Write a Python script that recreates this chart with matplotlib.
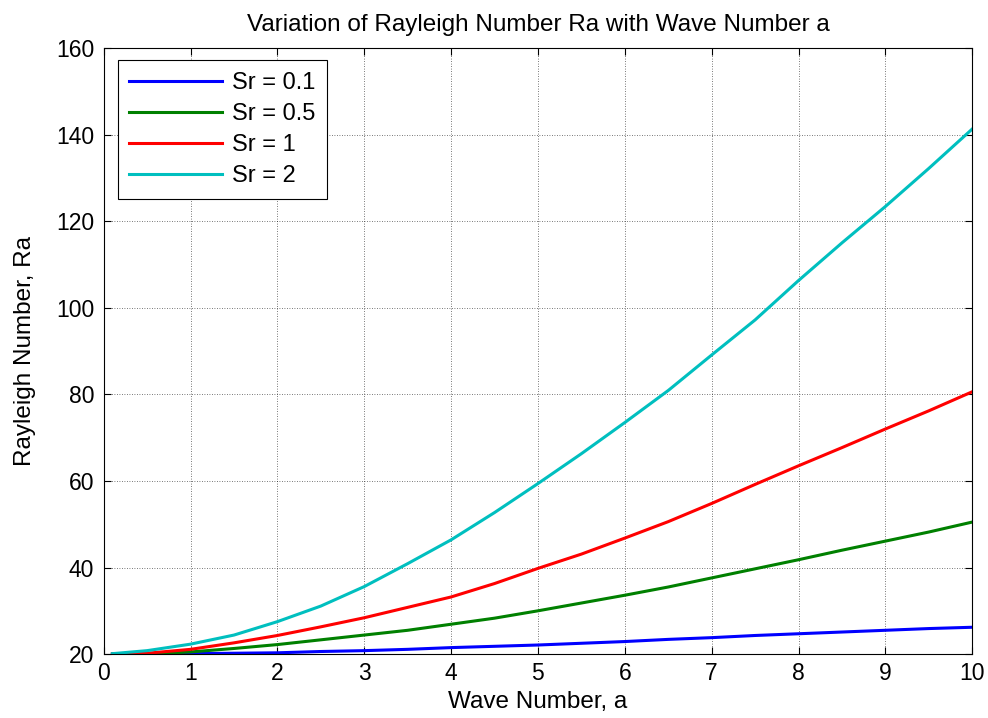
import numpy as np
import matplotlib
matplotlib.use("Agg")
import matplotlib.pyplot as plt

plt.rcParams["font.family"] = ["Liberation Sans", "DejaVu Sans"]

# values
wave_number = [0.1, 0.5, 1, 1.5, 2, 2.5, 3, 3.5, 4, 4.5, 5,
               5.5, 6, 6.5, 7, 7.5, 8, 8.5, 9, 9.5, 10]
ra_sr_01 = [20.0, 20.0, 20.1, 20.2, 20.3, 20.6, 20.8, 21.1, 21.5, 21.8, 22.1,
            22.5, 22.9, 23.4, 23.8, 24.3, 24.7, 25.1, 25.5, 25.9, 26.2]
ra_sr_05 = [20.0, 20.0, 20.5, 21.3, 22.2, 23.3, 24.4, 25.5, 26.9, 28.3, 30.0,
            31.8, 33.6, 35.5, 37.6, 39.7, 41.8, 44.0, 46.1, 48.2, 50.5]
ra_sr_1 = [20.0, 20.2, 21.1, 22.6, 24.3, 26.3, 28.4, 30.8, 33.2, 36.3, 39.8,
           43.1, 46.8, 50.6, 54.8, 59.2, 63.5, 67.7, 72.0, 76.2, 80.6]
ra_sr_2 = [20.1, 20.8, 22.3, 24.4, 27.5, 31.1, 35.6, 40.9, 46.4, 52.7, 59.4,
           66.3, 73.5, 80.9, 89.1, 97.2, 106.3, 115.0, 123.4, 132.2, 141.3]

labels = ["Sr = 0.1", "Sr = 0.5", "Sr = 1", "Sr = 2"]
colors = ["#0000ff", "#008000", "#ff0000", "#00bfbf"]

fig = plt.figure(figsize=(9.88, 7.18), dpi=100)
ax = fig.add_axes([0.105, 0.089, 0.879, 0.844])

for ys, lab, col in zip([ra_sr_01, ra_sr_05, ra_sr_1, ra_sr_2], labels, colors):
    ax.plot(wave_number, ys, color=col, lw=2.2, label=lab)

ax.set_xlim(0, 10)
ax.set_ylim(20, 160)
ax.set_xticks(np.arange(0, 11, 1))
ax.set_yticks(np.arange(20, 161, 20))
ax.grid(True, color="black", linestyle=(0, (1, 2)), linewidth=0.6, alpha=0.7)
ax.tick_params(direction="in", top=True, right=True, labelsize=16.5, length=5)
ax.tick_params(axis="x", pad=6)
ax.tick_params(axis="y", pad=7)
for s in ax.spines.values():
    s.set_linewidth(0.8)

ax.set_title("Variation of Rayleigh Number Ra with Wave Number a", fontsize=17.5, pad=12)
ax.set_xlabel("Wave Number, a", fontsize=17.5, labelpad=4)
ax.set_ylabel("Rayleigh Number, Ra", fontsize=17.5, labelpad=14)

leg = ax.legend(loc="upper left", bbox_to_anchor=(0.016, 0.98), borderaxespad=0,
                fontsize=17, fancybox=False, edgecolor="black", framealpha=1,
                handlelength=3.9, handletextpad=0.45, borderpad=0.5,
                labelspacing=0.38)
leg.get_frame().set_linewidth(0.8)

fig.savefig("out.png", dpi=100)
